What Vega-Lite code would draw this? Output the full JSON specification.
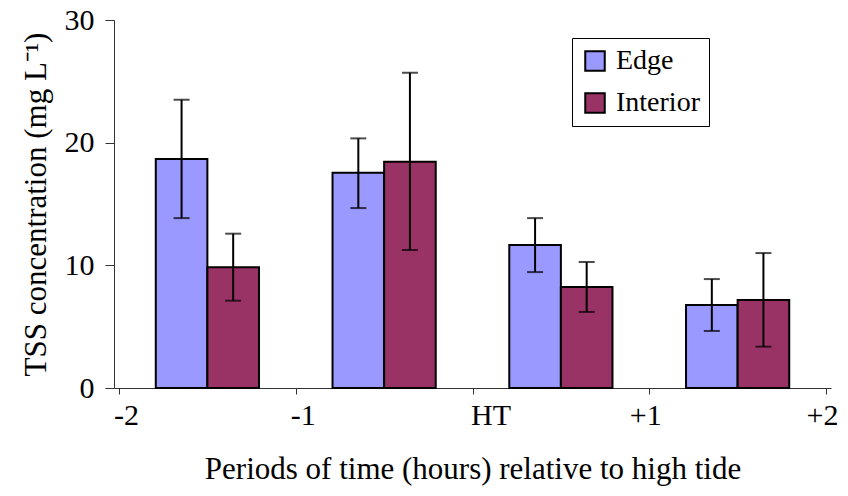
{
  "$schema": "https://vega.github.io/schema/vega-lite/v6.json",
  "autosize": {"type": "none"},
  "padding": {"left": 114, "top": 20, "right": 17, "bottom": 108},
  "width": 717,
  "height": 368,
  "background": "white",
  "config": {
    "view": {"stroke": null},
    "font": "Liberation Serif",
    "axis": {"grid": false, "domainColor": "#333", "tickColor": "#333", "labelColor": "black", "titleColor": "black", "labelFont": "Liberation Serif", "titleFont": "Liberation Serif", "labelFontSize": 30, "titleFontSize": 31, "titleFontWeight": "normal"}
  },
  "data": {
    "values": [
      {"t": -1.5, "site": "Edge", "mean": 18.66, "lo": 13.85, "hi": 23.5},
      {"t": -1.5, "site": "Interior", "mean": 9.85, "lo": 7.12, "hi": 12.58},
      {"t": -0.5, "site": "Edge", "mean": 17.55, "lo": 14.67, "hi": 20.35},
      {"t": -0.5, "site": "Interior", "mean": 18.44, "lo": 11.25, "hi": 25.7},
      {"t": 0.5, "site": "Edge", "mean": 11.65, "lo": 9.45, "hi": 13.85},
      {"t": 0.5, "site": "Interior", "mean": 8.23, "lo": 6.2, "hi": 10.27},
      {"t": 1.5, "site": "Edge", "mean": 6.76, "lo": 4.65, "hi": 8.88},
      {"t": 1.5, "site": "Interior", "mean": 7.17, "lo": 3.37, "hi": 11.0}
    ]
  },
  "encoding": {
    "x": {
      "field": "t", "type": "quantitative",
      "scale": {"domain": [-2, 2], "nice": false, "zero": false},
      "axis": {
        "values": [-2, -1, 0, 1, 2],
        "labelExpr": "datum.value == 0 ? 'HT' : (datum.value > 0 ? '+' + datum.value : '' + datum.value)",
        "tickSize": 6,
        "labelPadding": 6,
        "labelOffset": {"condition": [{"test": "datum.value == 0", "value": 18}, {"test": "datum.value > 0", "value": -4}], "value": 7},
        "title": "Periods of time (hours) relative to high tide",
        "titlePadding": 24,
        "labelFlush": false
      }
    }
  },
  "layer": [
    {
      "transform": [{"filter": "datum.site == 'Edge'"}],
      "mark": {"type": "bar", "width": 51.6, "xOffset": -25.8, "stroke": "black", "strokeWidth": 2},
      "encoding": {
        "y": {
          "field": "mean", "type": "quantitative",
          "scale": {"domain": [0, 30], "nice": false},
          "axis": {"values": [0, 10, 20, 30], "tickSize": 9, "labelPadding": 11, "title": "TSS concentration (mg L\u207b\u00b9)", "titlePadding": 12}
        },
        "color": {
          "field": "site", "type": "nominal",
          "scale": {"domain": ["Edge", "Interior"], "range": ["#9999FF", "#993366"]},
          "legend": {
            "title": null, "orient": "none", "legendX": 458, "legendY": 18,
            "strokeColor": "black", "fillColor": "white", "padding": 9,
            "symbolType": "square", "symbolSize": 380, "symbolStrokeColor": "black", "symbolStrokeWidth": 2,
            "labelFont": "Liberation Serif", "labelFontSize": 28, "labelColor": "black", "labelOffset": 7,
            "rowPadding": 14
          }
        }
      }
    },
    {
      "transform": [{"filter": "datum.site == 'Interior'"}],
      "mark": {"type": "bar", "width": 51.6, "xOffset": 25.8, "stroke": "black", "strokeWidth": 2},
      "encoding": {
        "y": {"field": "mean", "type": "quantitative"},
        "color": {"field": "site", "type": "nominal"}
      }
    },
    {
      "transform": [{"filter": "datum.site == 'Edge'"}],
      "mark": {"type": "rule", "xOffset": -25.8, "color": "black", "strokeWidth": 2},
      "encoding": {"y": {"field": "lo", "type": "quantitative"}, "y2": {"field": "hi"}}
    },
    {
      "transform": [{"filter": "datum.site == 'Interior'"}],
      "mark": {"type": "rule", "xOffset": 25.8, "color": "black", "strokeWidth": 2},
      "encoding": {"y": {"field": "lo", "type": "quantitative"}, "y2": {"field": "hi"}}
    },
    {
      "transform": [{"filter": "datum.site == 'Edge'"}, {"fold": ["lo", "hi"], "as": ["end", "v"]}],
      "mark": {"type": "tick", "orient": "horizontal", "xOffset": -25.8, "color": "black", "size": 16, "thickness": 2},
      "encoding": {"y": {"field": "v", "type": "quantitative"}}
    },
    {
      "transform": [{"filter": "datum.site == 'Interior'"}, {"fold": ["lo", "hi"], "as": ["end", "v"]}],
      "mark": {"type": "tick", "orient": "horizontal", "xOffset": 25.8, "color": "black", "size": 16, "thickness": 2},
      "encoding": {"y": {"field": "v", "type": "quantitative"}}
    }
  ]
}
